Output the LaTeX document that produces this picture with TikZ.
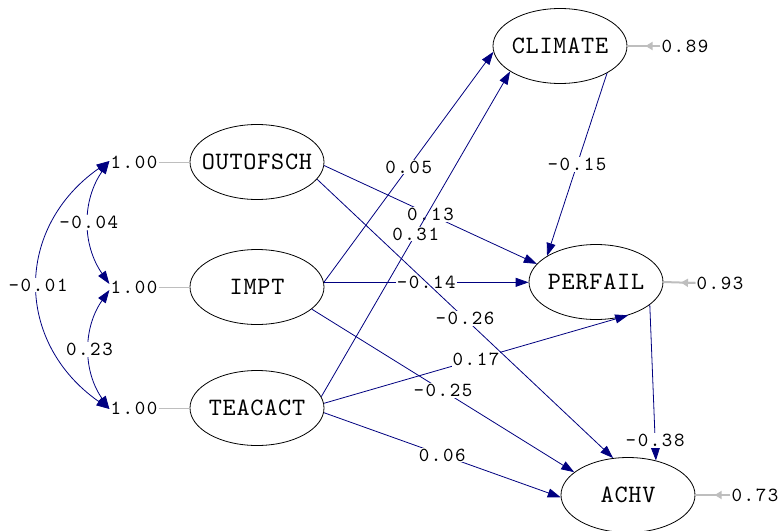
\documentclass[tikz,border=0pt]{standalone}
\usepackage{fontspec}
\newfontfamily\coeffont{lmmono10-regular.otf}[LetterSpace=8]
\newfontfamily\varfont{lmmono10-regular.otf}[LetterSpace=3]
\usetikzlibrary{arrows.meta,shapes.geometric,calc}
\definecolor{pathblue}{RGB}{0,0,128}
\definecolor{errgray}{RGB}{190,190,190}
% variable names are set in a zero-width box so every ellipse keeps the same size
\newcommand{\vname}[1]{\makebox[0pt][c]{#1}}
\tikzset{
  latent/.style={ellipse, draw=black, line width=0.8pt, minimum width=134pt,
    minimum height=75pt, inner sep=0pt, font={\fontsize{25}{25}\varfont}},
  coef/.style={fill=white, inner sep=1pt, text=black, font={\fontsize{20}{20}\coeffont}},
  plain/.style={inner sep=1pt, text=black, font={\fontsize{20}{20}\coeffont}},
  causal/.style={draw=pathblue, line width=0.8pt, -{Triangle[length=13pt,width=9pt]}},
  cov/.style={draw=pathblue, line width=0.8pt, {Triangle[length=13pt,width=9pt]}-{Triangle[length=13pt,width=9pt]}},
  varline/.style={draw=errgray, line width=1pt},
  errline/.style={draw=errgray, line width=2pt},
  errtip/.style={draw=errgray, line width=2pt, -{Triangle[length=7pt,width=8pt]}},
}
\begin{document}
\begin{tikzpicture}[x=1pt,y=-1pt]
\fill[white] (0,0) rectangle (781,530);
\useasboundingbox (0,0) rectangle (781,530);

% latent variables
\node[latent] (O) at (257,162) {\vname{OUTOFSCH}};
\node[latent] (I) at (257,287) {\vname{IMPT}};
\node[latent] (T) at (257,408) {\vname{TEACACT}};
\node[latent] (C) at (560,46) {\vname{CLIMATE}};
\node[latent] (P) at (596,282) {\vname{PERFAIL}};
\node[latent] (A) at (628,495) {\vname{ACHV}};

% variances of the exogenous variables
\node[plain] (L1) at (134,162) {1.00};
\node[plain] (L2) at (134,287) {1.00};
\node[plain] (L3) at (134,408) {1.00};
\draw[varline] (L1.east) -- (O.west);
\draw[varline] (L2.east) -- (I.west);
\draw[varline] (L3.east) -- (T.west);

% covariances
\draw[cov] ([yshift=1pt]L1.west) to[out=215,in=145,looseness=1.2] node[coef]{-0.01} ([yshift=-1pt]L3.west);
\draw[cov] ([yshift=1pt]L1.west) to[out=235,in=125] node[coef]{-0.04} ([yshift=3pt]L2.west);
\draw[cov] ([yshift=-3pt]L2.west) to[out=235,in=125] node[coef]{0.23} ([yshift=-1pt]L3.west);

% error variances
\node[plain] (eC) at (685,46) {0.89};
\node[plain] (eP) at (720,283) {0.93};
\node[plain] (eA) at (755,495) {0.73};
\draw[errline] (eC.west) -- (C.east);
\draw[errtip] (eC.west) -- ($(eC.west)!0.45!(C.east)$);
\draw[errline] (eP.west) -- (P.east);
\draw[errtip] (eP.west) -- ($(eP.west)!0.45!(P.east)$);
\draw[errline] (eA.west) -- (A.east);
\draw[errtip] (eA.west) -- ($(eA.west)!0.45!(A.east)$);

% structural paths
\draw[causal] (I.4) -- node[coef]{0.05} (C.185);
\draw[causal] (O.-3) -- node[coef]{0.13} (P.163);
\draw[causal] (I.4) -- node[coef]{-0.14} (P.west |- I.4);
\draw[causal] (I.-22) -- node[coef]{-0.25} (A.157);
\draw[causal] (T.4) -- node[coef]{0.17} (P.-46);
\draw[causal] (T.-4) -- node[coef]{0.06} (A.182);
\draw[causal] (C.-30) -- node[coef]{-0.15} (P.152);
\draw[causal] (P.-23) -- node[coef,pos=0.87]{-0.38} (A.51);
\draw[causal] (T.10) -- node[coef]{0.31} (C.207);
\draw[causal] (O.-16) -- node[coef]{-0.26} (A.112);
\end{tikzpicture}
\end{document}
